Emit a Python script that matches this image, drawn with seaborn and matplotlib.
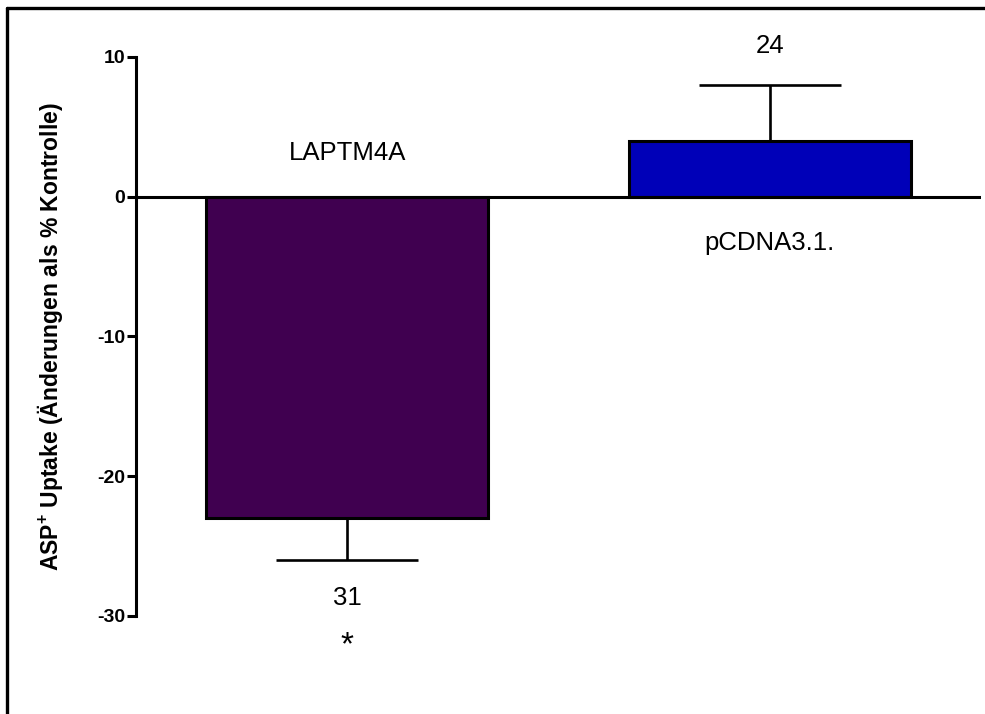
import matplotlib
matplotlib.use("Agg")
import matplotlib.pyplot as plt
import seaborn as sns
import pandas as pd
from matplotlib.lines import Line2D

# Daten
gruppen = ["LAPTM4A", "pCDNA3.1."]
werte = [-23, 4]
fehler = [3, 4]
n_werte = [31, 24]
farben = ["#400050", "#0000B8"]
signifikanz = ["*", ""]

sns.set_style("white")
plt.rcParams["font.family"] = ["Liberation Sans", "DejaVu Sans"]
plt.rcParams["mathtext.fontset"] = "custom"
plt.rcParams["mathtext.rm"] = "Liberation Sans:bold"
plt.rcParams["mathtext.bf"] = "Liberation Sans:bold"
plt.rcParams["axes.unicode_minus"] = False
plt.rcParams["text.color"] = "black"
plt.rcParams["axes.labelcolor"] = "black"

df = pd.DataFrame({"gruppe": gruppen, "wert": werte})

fig = plt.figure(figsize=(9.85, 7.14), dpi=100)
ax = fig.add_axes([0.1381, 0.1373, 0.8579, 0.7829])

sns.barplot(data=df, x="gruppe", y="wert", hue="gruppe", palette=farben,
            saturation=1, width=0.667, edgecolor="black", linewidth=2.2,
            legend=False, ax=ax, zorder=3)

# einseitige Fehlerbalken (nur nach außen)
unten = [f if w < 0 else 0 for w, f in zip(werte, fehler)]
oben = [f if w >= 0 else 0 for w, f in zip(werte, fehler)]
ax.errorbar(range(len(gruppen)), werte, yerr=[unten, oben], fmt="none",
            ecolor="black", elinewidth=1.9, capsize=51, capthick=1.9, zorder=2)

ax.axhline(0, color="black", lw=2.2, zorder=4)

# Beschriftungen
for i, (g, w, f, n, s) in enumerate(zip(gruppen, werte, fehler, n_werte, signifikanz)):
    if w < 0:
        ax.text(i, 3.15, g, ha="center", va="center", fontsize=18.5, clip_on=False)
        ax.text(i, w - f - 2.7, str(n), ha="center", va="center", fontsize=18.5, clip_on=False)
        ax.text(i, w - f - 6.1, s, ha="center", va="center", fontsize=24, clip_on=False)
    else:
        ax.text(i, -3.3, g, ha="center", va="center", fontsize=18.5, clip_on=False)
        ax.text(i, w + f + 2.8, str(n), ha="center", va="center", fontsize=18.5, clip_on=False)

ax.set_xlim(-0.5, 1.5)
ax.set_ylim(-30, 10)
ax.set_yticks([10, 0, -10, -20, -30])
ax.set_xticks([])
ax.set_xlabel("")
ax.set_ylabel("ASP$^{+}$ Uptake (Änderungen als % Kontrolle)", fontsize=16.5,
              fontweight="bold")
ax.yaxis.set_label_coords(-0.084, 0.5)

for sp in ["top", "right", "bottom"]:
    ax.spines[sp].set_visible(False)
ax.spines["left"].set_linewidth(2.2)
ax.spines["left"].set_color("black")
ax.tick_params(axis="y", left=True, length=6.5, width=2.2, pad=1.5,
               labelsize=14, colors="black")
for lbl in ax.get_yticklabels():
    lbl.set_fontweight("bold")
ax.grid(False)

# Rahmen (links und oben)
fig.add_artist(Line2D([0.0071, 0.0071], [0, 0.9888], transform=fig.transFigure,
                      color="black", lw=2.4))
fig.add_artist(Line2D([0.0071, 1.0], [0.9888, 0.9888], transform=fig.transFigure,
                      color="black", lw=2.4))

fig.savefig("out.png", dpi=100)
